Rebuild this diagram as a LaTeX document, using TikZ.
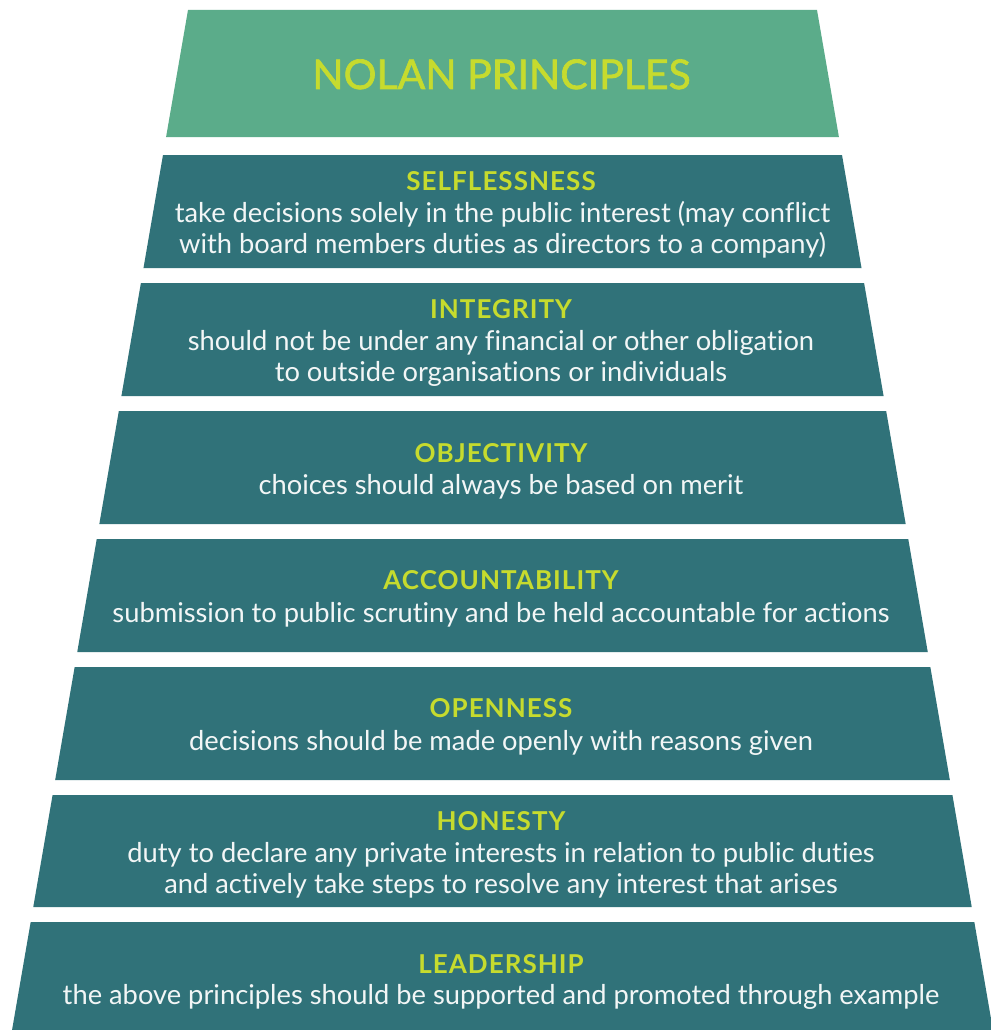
\documentclass[tikz,border=0pt]{standalone}
\usepackage{fontspec}
\setmainfont{Lato}[RawFeature={-liga}]
\newfontfamily\titlefont{Lato}[RawFeature={-liga},FakeBold=1.6]
\newfontfamily\headfont{Lato Bold}[RawFeature={-liga},LetterSpace=4]
\definecolor{topgreen}{HTML}{5BAC8A}
\definecolor{teal}{HTML}{307279}
\definecolor{lime}{HTML}{C6DB2E}
\definecolor{bodywhite}{HTML}{F2F6F6}
\tikzset{
  tierfill/.style={fill=teal},
  titletext/.style={anchor=base,inner sep=0pt,text=lime,font=\titlefont\fontsize{41}{44}\selectfont},
  headtext/.style={anchor=base,inner sep=0pt,text=lime,font=\headfont\fontsize{26}{28}\selectfont},
  bodytext/.style={anchor=base,inner sep=0pt,text=bodywhite,font=\fontsize{27.3}{30}\selectfont}
}
\begin{document}
\begin{tikzpicture}[x=1pt,y=-1pt]
\useasboundingbox (0,0) rectangle (990,1030);
\fill[white] (0,0) rectangle (990,1030);
% tiers (pixel coordinates, y downward)
\fill[topgreen] (188,10) -- (817,10) -- (838.91,137) -- (166.09,137) -- cycle;
\fill[tierfill] (162.99,155) -- (842.01,155) -- (861.51,268) -- (143.49,268) -- cycle;
\fill[tierfill] (140.91,283) -- (864.09,283) -- (883.59,396) -- (121.41,396) -- cycle;
\fill[tierfill] (118.83,411) -- (886.17,411) -- (905.67,524) -- (99.33,524) -- cycle;
\fill[tierfill] (96.75,539) -- (908.25,539) -- (927.75,652) -- (77.25,652) -- cycle;
\fill[tierfill] (74.67,667) -- (930.33,667) -- (949.83,780) -- (55.17,780) -- cycle;
\fill[tierfill] (52.59,795) -- (952.41,795) -- (971.73,907) -- (33.27,907) -- cycle;
\fill[tierfill] (30.68,922) -- (974.32,922) -- (992.95,1030) -- (12.05,1030) -- cycle;
% texts
\node[titletext] (title) at (501.5,89) {NOLAN PRINCIPLES};

\node[headtext] (h1) at (501,190) {SELFLESSNESS};
\node[bodytext] (b1a) at (502.5,222) {take decisions solely in the public interest (may conflict};
\node[bodytext] (b1b) at (502.5,253) {with board members duties as directors to a company)};

\node[headtext] (h2) at (501,318) {INTEGRITY};
\node[bodytext] (b2a) at (501,350) {should not be under any financial or other obligation};
\node[bodytext] (b2b) at (501,381) {to outside organisations or individuals};

\node[headtext] (h3) at (501,462) {OBJECTIVITY};
\node[bodytext] (b3) at (501,494) {choices should always be based on merit};

\node[headtext] (h4) at (501,589) {ACCOUNTABILITY};
\node[bodytext] (b4) at (501,622) {submission to public scrutiny and be held accountable for actions};

\node[headtext] (h5) at (501,717) {OPENNESS};
\node[bodytext] (b5) at (501,750) {decisions should be made openly with reasons given};

\node[headtext] (h6) at (501,830) {HONESTY};
\node[bodytext] (b6a) at (501,862) {duty to declare any private interests in relation to public duties};
\node[bodytext] (b6b) at (501,893) {and actively take steps to resolve any interest that arises};

\node[headtext] (h7) at (501,973) {LEADERSHIP};
\node[bodytext] (b7) at (501,1004) {the above principles should be supported and promoted through example};
\end{tikzpicture}
\end{document}
